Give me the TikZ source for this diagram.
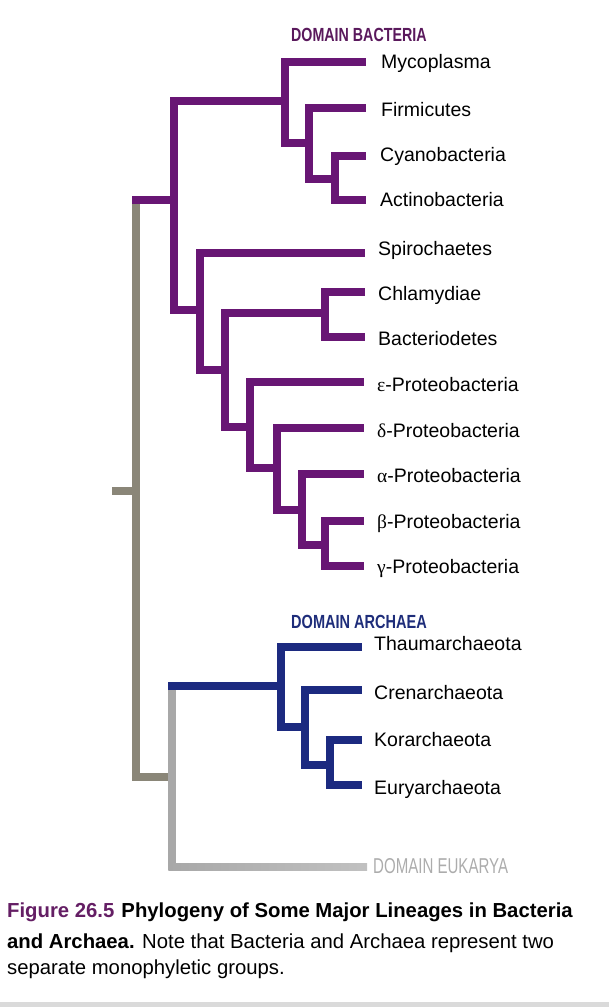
\documentclass[tikz,border=0pt]{standalone}
\usepackage{fontspec}
\setmainfont{Liberation Sans}
\newfontfamily\grk{Liberation Serif}
\usetikzlibrary{calc}
\definecolor{purp}{RGB}{104,22,116}
\definecolor{bluel}{RGB}{28,42,128}
\definecolor{dkgray}{RGB}{138,134,120}
\definecolor{ltgray}{RGB}{168,168,168}
\definecolor{bactc}{RGB}{90,25,92}
\definecolor{archc}{RGB}{30,45,122}
\definecolor{eukc}{RGB}{172,172,172}
\definecolor{figc}{RGB}{100,30,100}
\definecolor{barc}{RGB}{218,218,218}
\begin{document}
\begin{tikzpicture}[x=1pt,y=-1pt,
  br/.style={line width=7.3pt,line join=miter},
  pb/.style={br,draw=purp},
  bb/.style={br,draw=bluel},
  gb/.style={br,draw=dkgray},
  lb/.style={br,draw=ltgray},
  lab/.style={anchor=base west,inner sep=0pt,font=\fontsize{19.5}{22}\selectfont},
  ttl/.style={anchor=base west,inner sep=0pt,font=\bfseries\fontsize{19}{22}\selectfont},
  capt/.style={anchor=base west,inner sep=0pt,font=\fontsize{20.3}{24}\selectfont}]
\useasboundingbox (0,0) rectangle (609,1007);
\fill[barc] (0,1002) rectangle (609,1007);

% internal nodes
\coordinate (stub) at (112,491);
\coordinate (R) at (136,491);
\coordinate (B) at (174,200);
\coordinate (B1) at (285,101);
\coordinate (B11) at (309,143);
\coordinate (B111) at (335,179);
\coordinate (B2) at (200,310);
\coordinate (B21) at (225,370);
\coordinate (B211) at (325,313);
\coordinate (B212) at (250,427);
\coordinate (B2121) at (277,468);
\coordinate (B21211) at (302,510);
\coordinate (B212111) at (325,545);
\coordinate (L) at (172,777);
\coordinate (A) at (281,686);
\coordinate (A1) at (305,727);
\coordinate (A11) at (330,765);
% tips
\coordinate (tMyco) at (366,62);
\coordinate (tFirm) at (366,108);
\coordinate (tCyano) at (366,156);
\coordinate (tActino) at (366,200);
\coordinate (tSpiro) at (365,253);
\coordinate (tChl) at (365,292);
\coordinate (tBac) at (365,337);
\coordinate (tEps) at (364,382);
\coordinate (tDel) at (364,428);
\coordinate (tAlp) at (364,474);
\coordinate (tBet) at (364,521);
\coordinate (tGam) at (364,566);
\coordinate (tThaum) at (362,647);
\coordinate (tCren) at (362,690);
\coordinate (tKor) at (362,740);
\coordinate (tEury) at (362,785);
\coordinate (tEuk) at (367,867);

% gray backbone
\draw[gb] (stub) -- (R);
\draw[gb] (R) -- (R |- B);
\draw[gb] (R) |- (L);
\draw[lb] (L |- A) -- (L |- tEuk);
\shade[left color=ltgray,right color=eukc!75] ($(L |- tEuk)+(-3.65,-3.65)$) rectangle ($(tEuk)+(0,3.65)$);

% bacteria
\draw[pb,line cap=rect] (R |- B) -- (B);
\draw[pb] (B) |- (B1);
\draw[pb] (B) |- (B2);
\draw[pb] (B1) |- (tMyco);
\draw[pb] (B1) |- (B11);
\draw[pb] (B11) |- (tFirm);
\draw[pb] (B11) |- (B111);
\draw[pb] (B111) |- (tCyano);
\draw[pb] (B111) |- (tActino);
\draw[pb] (B2) |- (tSpiro);
\draw[pb] (B2) |- (B21);
\draw[pb] (B21) |- (B211);
\draw[pb] (B21) |- (B212);
\draw[pb] (B211) |- (tChl);
\draw[pb] (B211) |- (tBac);
\draw[pb] (B212) |- (tEps);
\draw[pb] (B212) |- (B2121);
\draw[pb] (B2121) |- (tDel);
\draw[pb] (B2121) |- (B21211);
\draw[pb] (B21211) |- (tAlp);
\draw[pb] (B21211) |- (B212111);
\draw[pb] (B212111) |- (tBet);
\draw[pb] (B212111) |- (tGam);

% archaea
\draw[bb,line cap=rect] (L |- A) -- (A);
\draw[bb] (A) |- (tThaum);
\draw[bb] (A) |- (A1);
\draw[bb] (A1) |- (tCren);
\draw[bb] (A1) |- (A11);
\draw[bb] (A11) |- (tKor);
\draw[bb] (A11) |- (tEury);

% titles
\node[ttl,text=bactc] (tbact) at (291,41) {\scalebox{0.75}[1]{DOMAIN BACTERIA}};
\node[ttl,text=archc] (tarch) at (291,628) {\scalebox{0.765}[1]{DOMAIN ARCHAEA}};
\node[anchor=base west,inner sep=0pt,text=eukc,font=\fontsize{21.5}{24}\selectfont] (teuk) at (373,873) {\scalebox{0.7}[1]{DOMAIN EUKARYA}};

% labels
\node[lab] (myco) at (381,68.5) {Mycoplasma};
\node[lab] (firm) at (381,116) {Firmicutes};
\node[lab] (cyano) at (380,161.5) {Cyanobacteria};
\node[lab] (actino) at (380,206.5) {Actinobacteria};
\node[lab] (spiro) at (378,255) {Spirochaetes};
\node[lab] (chl) at (378,300) {Chlamydiae};
\node[lab] (bac) at (378,345.5) {Bacteriodetes};
\node[lab] (eps) at (377,391) {{\grk ε}-Proteobacteria};
\node[lab] (del) at (377,437.5) {{\grk δ}-Proteobacteria};
\node[lab] (alp) at (377,482.5) {{\grk α}-Proteobacteria};
\node[lab] (bet) at (377,528) {{\grk β}-Proteobacteria};
\node[lab] (gam) at (377,573) {{\grk γ}-Proteobacteria};
\node[lab] (thaum) at (374,650.5) {Thaumarchaeota};
\node[lab] (cren) at (374,699) {Crenarchaeota};
\node[lab] (kor) at (374,746) {Korarchaeota};
\node[lab] (eury) at (374,794) {Euryarchaeota};

% caption
\node[capt] (cap1) at (7,917) {\textcolor{figc}{\bfseries Figure 26.5}\hspace{0.35em}\bfseries Phylogeny of Some Major Lineages in Bacteria};
\node[capt] (cap2) at (7,948) {{\bfseries and Archaea.} Note that Bacteria and Archaea represent two};
\node[capt] (cap3) at (7,974) {separate monophyletic groups.};
\end{tikzpicture}
\end{document}
